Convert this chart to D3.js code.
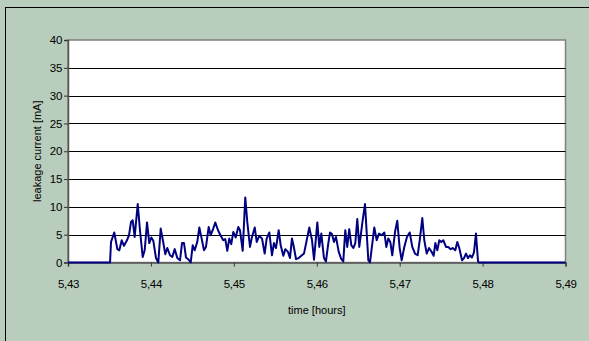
<!DOCTYPE html>
<html>
<head>
<meta charset="utf-8">
<script src="https://cdn.jsdelivr.net/npm/d3@7/dist/d3.min.js"></script>
<style>
	body { margin: 0; background: #b8cdbb; }
	svg { display: block; font-family: "Liberation Sans", Arial, sans-serif; }
</style>
</head>
<body>
<div class="plotWin"></div>
<script>
// time [hours]
var times = [5.43, 5.43507, 5.43519, 5.43558, 5.43595, 5.43619, 5.43648, 5.43675, 5.43708, 5.43736, 5.43760,
	5.43780, 5.43804, 5.43841, 5.43868, 5.43901, 5.43925, 5.43953, 5.43980, 5.44005, 5.44029,
	5.44061, 5.44089, 5.44118, 5.44142, 5.44173, 5.44198, 5.44230, 5.44258, 5.44287, 5.44318,
	5.44351, 5.44375, 5.44399, 5.44423, 5.44456, 5.44480, 5.44504, 5.44528, 5.44559, 5.44584,
	5.44612, 5.44640, 5.44664, 5.44697, 5.44721, 5.44745, 5.44776, 5.44809, 5.44842, 5.44873,
	5.44897, 5.44921, 5.44945, 5.44969, 5.44994, 5.45022, 5.45054, 5.45074, 5.45107, 5.45138,
	5.45162, 5.45195, 5.45219, 5.45252, 5.45276, 5.45307, 5.45340, 5.45372, 5.45396, 5.45428,
	5.45460, 5.45484, 5.45508, 5.45541, 5.45565, 5.45597, 5.45621, 5.45653, 5.45677, 5.45701,
	5.45726, 5.45750, 5.45782, 5.45814, 5.45846, 5.45879, 5.45910, 5.45943, 5.45967, 5.46007,
	5.46031, 5.46055, 5.46087, 5.46111, 5.46136, 5.46160, 5.46184, 5.46208, 5.46232, 5.46265,
	5.46296, 5.46320, 5.46344, 5.46368, 5.46392, 5.46417, 5.46441, 5.46465, 5.46489, 5.46513,
	5.46554, 5.46582, 5.46622, 5.46642, 5.46694, 5.46723, 5.46751, 5.46783, 5.46815, 5.46839,
	5.46863, 5.46887, 5.46911, 5.46944, 5.46971, 5.47000, 5.47024, 5.47056, 5.47088, 5.47121,
	5.47152, 5.47185, 5.47217, 5.47242, 5.47273, 5.47297, 5.47326, 5.47354, 5.47386, 5.47410,
	5.47430, 5.47454, 5.47478, 5.47502, 5.47526, 5.47559, 5.47586, 5.47615, 5.47640, 5.47671,
	5.47695, 5.47719, 5.47752, 5.47776, 5.47800, 5.47824, 5.47848, 5.47872, 5.47896, 5.47920,
	5.47945, 5.47957, 5.49];

// leakage current [mA]
var current = [0, 0, 3.7, 5.4, 2.4, 2.2, 4.0, 3.0, 3.9, 4.9, 7.3,
	7.6, 4.6, 10.5, 5.8, 1.0, 2.2, 7.2, 3.5, 4.5, 3.9,
	0.8, 0, 6.1, 4.2, 1.5, 2.6, 1.3, 1.0, 2.4, 0.8,
	0.4, 3.5, 3.5, 0.9, 0.5, 0, 3.1, 2.2, 3.7, 6.3,
	4.3, 2.2, 2.8, 6.4, 4.9, 5.8, 7.2, 5.8, 4.8, 4.0,
	4.2, 2.1, 4.3, 3.3, 5.5, 4.5, 6.4, 5.8, 2.1, 11.7,
	7.3, 2.8, 4.6, 6.3, 3.7, 4.8, 4.3, 1.6, 4.3, 5.4,
	1.3, 3.5, 2.6, 5.8, 3.1, 1.2, 2.4, 1.9, 0.8, 4.3,
	2.6, 0.6, 0.8, 1.2, 1.6, 4.0, 6.3, 4.0, 0.5, 7.2,
	2.8, 5.2, 0.8, 0.2, 3.1, 5.4, 5.1, 3.7, 4.6, 1.9,
	0.6, 0.2, 5.8, 2.8, 6.0, 3.1, 2.6, 3.5, 7.8, 2.8,
	7.6, 10.5, 0.4, 0, 6.3, 4.0, 5.2, 4.9, 5.4, 2.8,
	4.3, 3.7, 1.3, 5.5, 7.5, 2.6, 0.4, 2.8, 4.6, 5.4,
	2.8, 1.6, 1.3, 4.0, 8.0, 4.0, 1.6, 2.6, 1.9, 1.2,
	3.5, 2.2, 4.0, 3.7, 4.0, 2.8, 2.8, 2.4, 2.6, 2.2,
	3.7, 2.6, 0.4, 0.8, 1.6, 0.8, 1.3, 0.9, 1.8, 5.2,
	0.2, 0, 0];

var xTicks = [5.43, 5.44, 5.45, 5.46, 5.47, 5.48, 5.49],
	yTicks = [0, 5, 10, 15, 20, 25, 30, 35, 40];

var SVG_WIDTH = 589,
	SVG_HEIGHT = 341,
	PLOT_LEFT = 68,
	PLOT_RIGHT = 565.5,
	PLOT_TOP = 40,
	PLOT_BOTTOM = 262.5;

var commaFmt = d3.formatLocale({decimal: ",", thousands: ".", grouping: [3], currency: ["", ""]}).format(".2f");

var svg = d3.select(".plotWin")
	.append("svg")
		.attr("width", SVG_WIDTH)
		.attr("height", SVG_HEIGHT);

// chart area frame
svg.append("rect")
	.attr("x", 5.5)
	.attr("y", 7.5)
	.attr("width", 600)
	.attr("height", 400)
	.attr("fill", "#b8cdbb")
	.attr("stroke", "#000");

var x = d3.scaleLinear()
	.domain([5.43, 5.49])
	.range([PLOT_LEFT, PLOT_RIGHT]);

var y = d3.scaleLinear()
	.domain([0, 40])
	.range([PLOT_BOTTOM, PLOT_TOP]);

// plot area
svg.append("rect")
	.attr("x", PLOT_LEFT)
	.attr("y", PLOT_TOP)
	.attr("width", PLOT_RIGHT - PLOT_LEFT)
	.attr("height", PLOT_BOTTOM - PLOT_TOP)
	.attr("fill", "#fff")
	.attr("stroke", "#808080")
	.attr("stroke-width", 1.5);

// horizontal gridlines
svg.selectAll(".grid")
	.data(yTicks.filter(function(d) { return d > 0 && d < 40; }))
	.enter()
	.append("line")
		.attr("class", "grid")
		.attr("x1", PLOT_LEFT)
		.attr("x2", PLOT_RIGHT)
		.attr("y1", function(d) { return Math.round(y(d)) + 0.5; })
		.attr("y2", function(d) { return Math.round(y(d)) + 0.5; })
		.attr("stroke", "#000")
		.attr("stroke-width", 1);

var xAxis = svg.append("g")
	.attr("transform", "translate(0," + PLOT_BOTTOM + ")")
	.call(d3.axisBottom(x)
		.tickValues(xTicks)
		.tickSize(4)
		.tickPadding(13)
		.tickFormat(commaFmt));

var yAxis = svg.append("g")
	.attr("transform", "translate(" + PLOT_LEFT + ",0)")
	.call(d3.axisLeft(y)
		.tickValues(yTicks)
		.tickSize(4)
		.tickPadding(2)
		.tickFormat(d3.format("d")));

[xAxis, yAxis].forEach(function(ax) {
	ax.select(".domain").attr("stroke", "#555").attr("stroke-width", 1.5);
	ax.selectAll(".tick line").attr("stroke", "#333");
	ax.selectAll(".tick text")
		.attr("fill", "#000")
		.style("font-family", "'Liberation Sans', Arial, sans-serif")
		.style("font-size", "11.5px")
		.style("letter-spacing", "-0.3px");
});

// data line
var line = d3.line()
	.x(function(d, i) { return x(times[i]); })
	.y(function(d) { return y(d); });

svg.append("path")
	.datum(current)
	.attr("d", line)
	.attr("fill", "none")
	.attr("stroke", "#000080")
	.attr("stroke-width", 2)
	.attr("stroke-linejoin", "round");

// axis titles
svg.append("text")
	.attr("x", (PLOT_LEFT + PLOT_RIGHT) / 2)
	.attr("y", 314)
	.attr("text-anchor", "middle")
	.style("font-size", "11px")
	.text("time [hours]");

svg.append("text")
	.attr("transform", "translate(41," + ((PLOT_TOP + PLOT_BOTTOM) / 2) + ") rotate(-90)")
	.attr("text-anchor", "middle")
	.style("font-size", "11px")
	.text("leakage current [mA]");
</script>
</body>
</html>
